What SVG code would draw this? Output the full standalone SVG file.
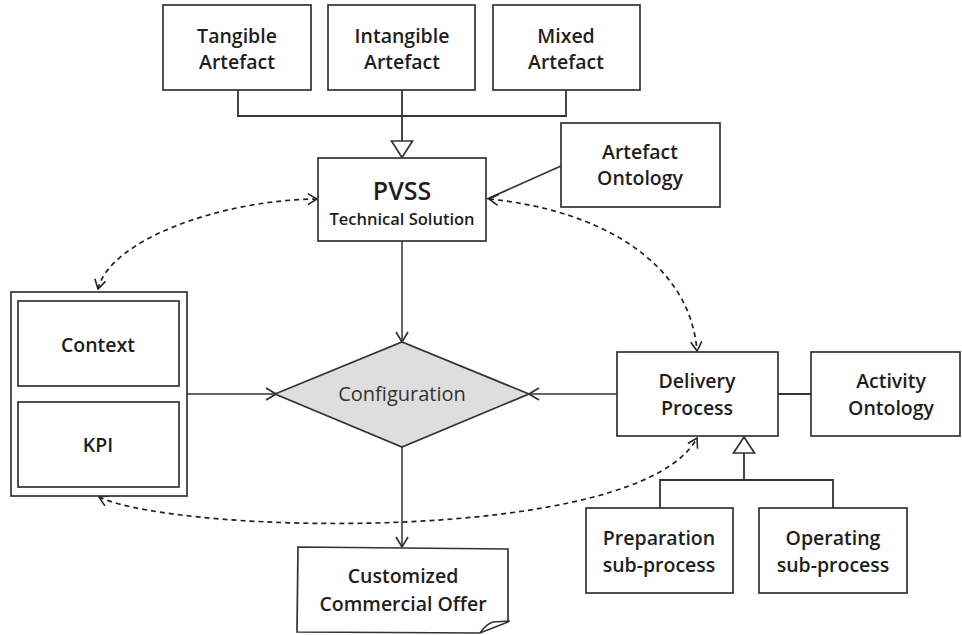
<svg xmlns="http://www.w3.org/2000/svg" width="962" height="635" viewBox="0 0 962 635">
<defs>
<style>
.box{fill:#fff;stroke:#333;stroke-width:1.7}
.t{font-family:"Open Sans","Liberation Sans",sans-serif;font-size:19.5px;font-weight:600;fill:#1e1e1e;text-anchor:middle}
.ln{fill:none;stroke:#333;stroke-width:1.8}
.arr{fill:none;stroke:#333;stroke-width:1.5;marker-end:url(#va)}
.dash{fill:none;stroke:#222;stroke-width:1.7;stroke-dasharray:5 4;marker-start:url(#da);marker-end:url(#da)}
</style>
<marker id="va" viewBox="0 0 12 14" refX="11" refY="7" markerWidth="12" markerHeight="14" markerUnits="userSpaceOnUse" orient="auto">
<path d="M1 1 L11 7 L1 13" fill="none" stroke="#333" stroke-width="1.7"/>
</marker>
<marker id="da" viewBox="0 0 12 14" refX="11" refY="7" markerWidth="11" markerHeight="13" markerUnits="userSpaceOnUse" orient="auto-start-reverse">
<path d="M1 1 L11 7 L1 13" fill="none" stroke="#222" stroke-width="1.7"/>
</marker>
</defs>
<rect width="962" height="635" fill="#fff"/>

<g id="connectors">
<path class="ln" d="M238 90 V116 H566 V90 M402 90 V141"/>
<path d="M391.5 141 H412.5 L402 157.5 Z" fill="#fff" stroke="#333" stroke-width="1.7"/>
<path class="ln" d="M561 166 L487 199"/>
<path class="arr" d="M402 241 V342"/>
<path class="arr" d="M187 394 H276"/>
<path class="arr" d="M617 394 H529"/>
<path class="arr" d="M402 447 V547"/>
<path class="ln" d="M778 394 H811"/>
<path class="ln" d="M744 453 V480 M660 508 V480 H833 V508"/>
<path d="M733.5 453 H754.5 L744 437 Z" fill="#fff" stroke="#333" stroke-width="1.7"/>
<path class="dash" d="M98 289 C110 240 220 200 317 199"/>
<path class="dash" d="M489 199 C600 210 690 262 697 351"/>
<path class="dash" d="M99 497 C180 535 640 545 697 438"/>
</g>

<g id="tangible"><rect class="box" x="163" y="5" width="148" height="85"/><text class="t" x="237" y="43">Tangible</text><text class="t" x="237" y="69">Artefact</text></g>
<g id="intangible"><rect class="box" x="328" y="5" width="147" height="85"/><text class="t" x="402" y="43">Intangible</text><text class="t" x="402" y="69">Artefact</text></g>
<g id="mixed"><rect class="box" x="493" y="5" width="147" height="85"/><text class="t" x="566" y="43">Mixed</text><text class="t" x="566" y="69">Artefact</text></g>
<g id="pvss"><rect class="box" x="318" y="158" width="168" height="83"/><text class="t" x="402" y="200" style="font-size:25px">PVSS</text><text class="t" x="402" y="225" style="font-size:16.5px">Technical Solution</text></g>
<g id="artefact-ontology"><rect class="box" x="561" y="123" width="159" height="84"/><text class="t" x="640" y="159">Artefact</text><text class="t" x="640" y="185">Ontology</text></g>
<g id="context-kpi">
<rect class="box" x="11" y="292" width="176" height="204"/>
<rect class="box" x="18" y="301" width="161" height="85"/><text class="t" x="98" y="352">Context</text>
<rect class="box" x="18" y="402" width="161" height="85"/><text class="t" x="98" y="452">KPI</text>
</g>
<g id="configuration"><path d="M275 394 L402 342 L529 394 L402 447 Z" fill="#dedede" stroke="#333" stroke-width="1.7"/><text class="t" x="402" y="401" style="fill:#333;font-weight:400;font-size:20px">Configuration</text></g>
<g id="delivery"><rect class="box" x="617" y="352" width="161" height="84"/><text class="t" x="697" y="388">Delivery</text><text class="t" x="697" y="415">Process</text></g>
<g id="activity-ontology"><rect class="box" x="811" y="352" width="149" height="84"/><text class="t" x="891" y="388">Activity</text><text class="t" x="891" y="415">Ontology</text></g>
<g id="preparation"><rect class="box" x="586" y="508" width="147" height="85"/><text class="t" x="659" y="545">Preparation</text><text class="t" x="659" y="572">sub-process</text></g>
<g id="operating"><rect class="box" x="759" y="508" width="148" height="85"/><text class="t" x="833" y="545">Operating</text><text class="t" x="833" y="572">sub-process</text></g>
<g id="offer">
<path d="M298 547 L508 549 L508 622 L480 633 L297 632 Z" fill="#fff" stroke="#333" stroke-width="1.7"/>
<path d="M480 633 Q486 624 493 622 L510 621" fill="none" stroke="#333" stroke-width="1.5"/>
<text class="t" x="403" y="583">Customized</text><text class="t" x="403" y="611">Commercial Offer</text>
</g>
</svg>
